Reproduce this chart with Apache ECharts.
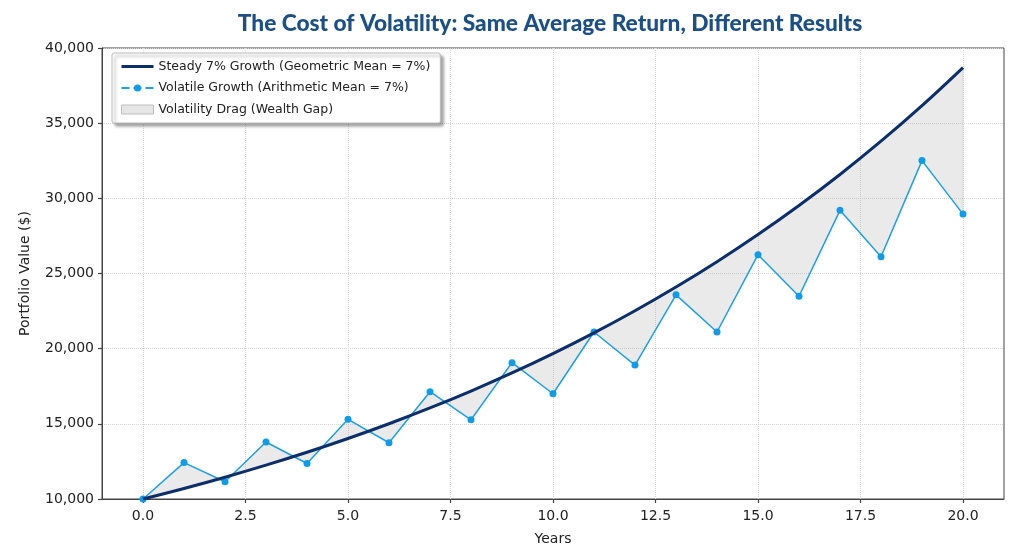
<!DOCTYPE html>
<html>
<head>
    <meta charset="utf-8" />
    <script src="https://cdn.jsdelivr.net/npm/echarts@6/dist/echarts.min.js"></script>
    <title></title>
    <style>
        html, body { margin: 0; padding: 0; background: #fff; }
        #main { width: 1024px; height: 547px; }
    </style>
</head>
<body>
    <div id="main"></div>
    <script type="text/javascript">
        // data
        var years = [0, 1, 2, 3, 4, 5, 6, 7, 8, 9, 10, 11, 12, 13, 14, 15, 16, 17, 18, 19, 20];
        var steady = [10000, 10700, 11449, 12250, 13108, 14026, 15007, 16058, 17182, 18385, 19672,
                      21049, 22522, 24098, 25785, 27590, 29522, 31588, 33799, 36165, 38697];
        var volatile = [10000, 12420, 11150, 13790, 12360, 15300, 13740, 17140, 15270, 19070, 17000,
                        21110, 18910, 23580, 21110, 26250, 23490, 29200, 26110, 32510, 28950];
        var xTicks = [0, 2.5, 5, 7.5, 10, 12.5, 15, 17.5, 20];

        var steadyName = 'Steady 7% Growth (Geometric Mean = 7%)';
        var volName = 'Volatile Growth (Arithmetic Mean = 7%)';
        var gapName = 'Volatility Drag (Wealth Gap)';

        var tickFont = 'DejaVu Sans';

        var myChart = echarts.init(document.getElementById('main'));

        var steadyData = [];
        var volData = [];
        for (var i = 0; i < years.length; i++) {
            steadyData.push([years[i], steady[i]]);
            volData.push([years[i], volatile[i]]);
        }

        // polygon between the two curves
        function renderGap(params, api) {
            var pts = [];
            for (var i = 0; i < years.length; i++) {
                pts.push(api.coord([years[i], steady[i]]));
            }
            for (var j = years.length - 1; j >= 0; j--) {
                pts.push(api.coord([years[j], volatile[j]]));
            }
            return {
                type: 'polygon',
                shape: { points: pts },
                style: { fill: 'rgba(150,150,150,0.2)', stroke: 'rgba(150,150,150,0.25)', lineWidth: 1 }
            };
        }

        var option = {
            animation: false,
            title: {
                text: 'The Cost of Volatility: Same Average Return, Different Results',
                left: 545,
                textAlign: 'center',
                top: 7,
                textStyle: { fontFamily: 'Lato', fontWeight: 900, fontSize: 22.7, color: '#1b4f86' }
            },
            legend: {
                orient: 'vertical',
                left: 112,
                top: 53,
                padding: [7, 10, 7, 8],
                itemGap: 8.5,
                itemWidth: 32,
                itemHeight: 9,
                backgroundColor: '#fff',
                borderColor: '#bbb',
                borderWidth: 1,
                borderRadius: 2,
                shadowBlur: 3,
                shadowColor: 'rgba(0,0,0,0.35)',
                shadowOffsetX: 3,
                shadowOffsetY: 3,
                textStyle: { fontFamily: tickFont, fontSize: 12.5, color: '#222' },
                data: [
                    { name: steadyName, lineStyle: { color: '#0c2f6b', width: 3 }, itemStyle: { color: 'rgba(0,0,0,0)', borderColor: 'rgba(0,0,0,0)', opacity: 0 } },
                    { name: volName, lineStyle: { type: 'dashed', width: 2 } },
                    { name: gapName, icon: 'rect', itemStyle: { color: '#e6e6e6', borderColor: '#bdbdbd', borderWidth: 1 } }
                ]
            },
            grid: {
                left: 102,
                right: 20,
                top: 48,
                bottom: 48,
                outerBoundsMode: 'none',
                show: true,
                borderColor: '#444',
                borderWidth: 1
            },
            xAxis: {
                type: 'value',
                min: -1,
                max: 21,
                name: 'Years',
                nameLocation: 'middle',
                nameGap: 33,
                nameTextStyle: { fontFamily: tickFont, fontSize: 14, color: '#222' },
                axisLine: { show: true, onZero: false, lineStyle: { color: '#444' } },
                axisTick: { show: true, length: 4, customValues: xTicks, lineStyle: { color: '#444', width: 1.2 } },
                axisLabel: {
                    customValues: xTicks,
                    fontFamily: tickFont, fontSize: 14, color: '#222', margin: 10,
                    formatter: function (v) { return v.toFixed(1); }
                },
                splitLine: { show: true, lineStyle: { color: '#d6d6d6', type: 'dotted' } }
            },
            yAxis: {
                type: 'value',
                min: 10000,
                max: 40000,
                interval: 5000,
                name: 'Portfolio Value ($)',
                nameLocation: 'middle',
                nameGap: 70,
                nameTextStyle: { fontFamily: tickFont, fontSize: 14, color: '#222' },
                axisLine: { show: true, onZero: false, lineStyle: { color: '#444' } },
                axisTick: { show: true, length: 4, lineStyle: { color: '#444', width: 1.2 } },
                axisLabel: {
                    fontFamily: tickFont, fontSize: 14, color: '#222', margin: 8,
                    formatter: function (v) { return v.toLocaleString('en-US'); }
                },
                splitLine: { show: true, lineStyle: { color: '#d6d6d6', type: 'dotted' } }
            },
            series: [
                {
                    name: gapName,
                    type: 'custom',
                    renderItem: renderGap,
                    data: [[0, 10000]],
                    z: 1,
                    silent: true,
                    itemStyle: { color: '#e6e6e6' }
                },
                {
                    name: volName,
                    type: 'line',
                    data: volData,
                    symbol: 'circle',
                    symbolSize: 7,
                    z: 3,
                    lineStyle: { color: '#1ea0e6', width: 1.5 },
                    itemStyle: { color: '#0f9be8' }
                },
                {
                    name: steadyName,
                    type: 'line',
                    data: steadyData,
                    smooth: 0.4,
                    showSymbol: false,
                    symbol: 'none',
                    z: 4,
                    lineStyle: { color: '#0c2f6b', width: 3 },
                    itemStyle: { color: '#0c2f6b' }
                }
            ]
        };
        myChart.setOption(option);
    </script>
</body>
</html>
